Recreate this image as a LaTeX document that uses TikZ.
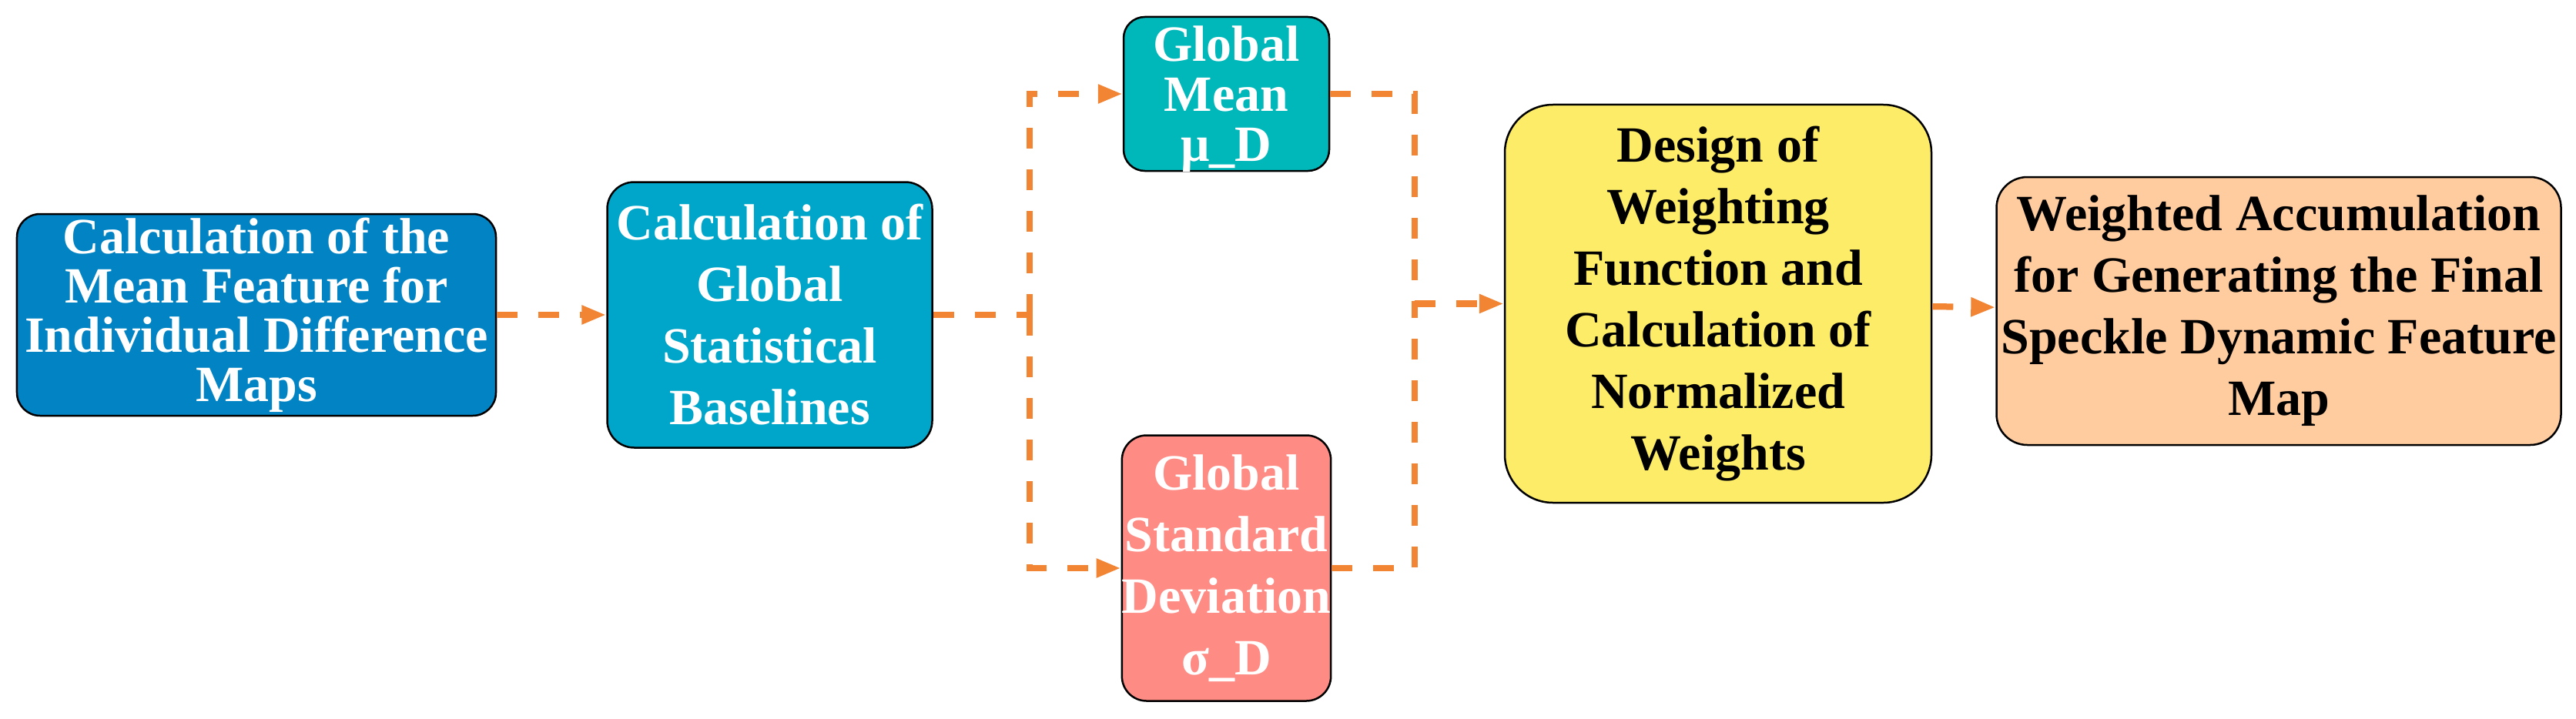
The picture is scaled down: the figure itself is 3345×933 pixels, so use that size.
\documentclass[tikz,border=0pt]{standalone}
\usepackage{fontspec}
\setmainfont{Liberation Serif}
\usetikzlibrary{arrows.meta,positioning}

\definecolor{meanblue}{HTML}{0284C4}
\definecolor{baseblue}{HTML}{00A6C9}
\definecolor{meanteal}{HTML}{00B7BA}
\definecolor{stdred}{HTML}{FF8B85}
\definecolor{weightyellow}{HTML}{FCEC67}
\definecolor{finalpeach}{HTML}{FFCC9F}
\definecolor{flowline}{HTML}{F18534}

\begin{document}
\begin{tikzpicture}[x=0.2pt, y=-0.2pt, >={Triangle[length=6.4pt,width=4.6pt]},
  box/.style={draw, line width=0.5pt, align=center, inner sep=0pt,
    font=\bfseries\fontsize{13.2pt}{16pt}\selectfont},
  flow/.style={draw=flowline, line width=1.65pt, dash pattern=on 5.4pt off 5.4pt}]
  \path[use as bounding box, fill=white] (0,0) rectangle (3345,933);

  \node[box, fill=meanblue, text=white, rounded corners=6pt, minimum width=124.4pt, minimum height=52.4pt,
    font=\bfseries\fontsize{13.2pt}{12.8pt}\selectfont] (calcmean) at (333,409)
    {Calculation of the\\Mean Feature for\\Individual Difference\\Maps};
  \node[box, fill=baseblue, text=white, rounded corners=7pt, minimum width=84.4pt, minimum height=69pt,
    right=28.4pt of calcmean] (baseline) {Calculation of\\Global\\Statistical\\Baselines};
  \node[box, fill=meanteal, text=white, rounded corners=5.5pt, minimum width=53.4pt, minimum height=40pt,
    text depth=0pt, font=\bfseries\fontsize{13.2pt}{13pt}\selectfont] (mean) at (1592.5,122) {Global\\Mean\\μ\_D};
  \node[box, fill=stdred, text=white, rounded corners=6.4pt, minimum width=53.4pt, minimum height=69pt,
    below=68.2pt of mean] (std) {Global\\Standard\\Deviation\\σ\_D};
  \node[box, fill=weightyellow, rounded corners=12.5pt, minimum width=110.8pt, minimum height=103.4pt]
    (design) at (2231,394.5) {Design of\\Weighting\\Function and\\Calculation of\\Normalized\\Weights};
  \node[box, fill=finalpeach, rounded corners=8pt, minimum width=146.6pt, minimum height=69.6pt,
    right=16.4pt of design, yshift=-1.9pt] (final)
    {Weighted Accumulation\\for Generating the Final\\Speckle Dynamic Feature\\Map};

  \coordinate[right=25pt of baseline] (splitL);
  \coordinate[left=23.2pt of design] (mergeR);

  \draw[flow, ->] (calcmean) -- (baseline);
  \draw[flow] (baseline) -- (splitL);
  \draw[flow, ->] (splitL) |- (mean);
  \draw[flow, ->] (splitL) |- (std);
  \draw[flow] (mean) -| (mergeR);
  \draw[flow] (std) -| (mergeR);
  \draw[flow, ->] (mergeR) -- (design);
  \draw[flow, ->] (design) -- (final);
\end{tikzpicture}
\end{document}
